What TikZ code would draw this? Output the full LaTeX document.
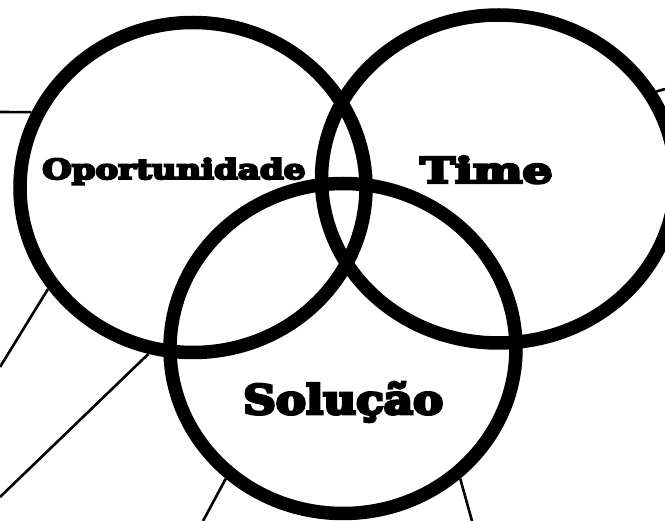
\documentclass[tikz,border=0pt]{standalone}
\usepackage{fontspec}
\usepackage{graphicx}
\usetikzlibrary{shapes.geometric}
\newfontfamily\heavyfont{DejaVu Serif}[BoldFeatures={FakeBold=7}]
\tikzset{
  ring/.style={draw=black, line width=13.5pt, ellipse, inner sep=0pt,
    minimum width=346pt, minimum height=330pt},
  spoke/.style={draw=black, line width=2.6pt},
  label/.style={inner sep=0pt, anchor=base west, font=\heavyfont\bfseries}
}
\begin{document}
\begin{tikzpicture}[x=1pt,y=-1pt]
\useasboundingbox (0,0) rectangle (665,521);
\node[ring] (c1) at (193,187.5) {};
\node[ring, minimum width=354pt, minimum height=328pt] (c2) at (498.5,179) {};
\node[ring] (c3) at (343,348.5) {};
\coordinate (e1) at (0,112);
\coordinate (e2) at (665,89);
\coordinate (e3) at (0,367);
\coordinate (e4) at (0,497);
\coordinate (e5) at (203,521);
\coordinate (e6) at (472,521);
\draw[spoke] (e1) -- (c1.155);
\draw[spoke] (e2) -- (c2.29);
\draw[spoke] (e3) -- (c1.215);
\draw[spoke] (e4) -- (c1.255);
\draw[spoke] (e5) -- (c3.228);
\draw[spoke] (e6) -- (c3.312);
\node[label] (t1) at (42,179) {\resizebox{263pt}{21pt}{Oportunidade}};
\node[label] (t2) at (420,183) {\resizebox{132pt}{27pt}{Time}};
\node[label] (t3) at (243,414) {\resizebox{200pt}{32pt}{Solução}};
\end{tikzpicture}
\end{document}
